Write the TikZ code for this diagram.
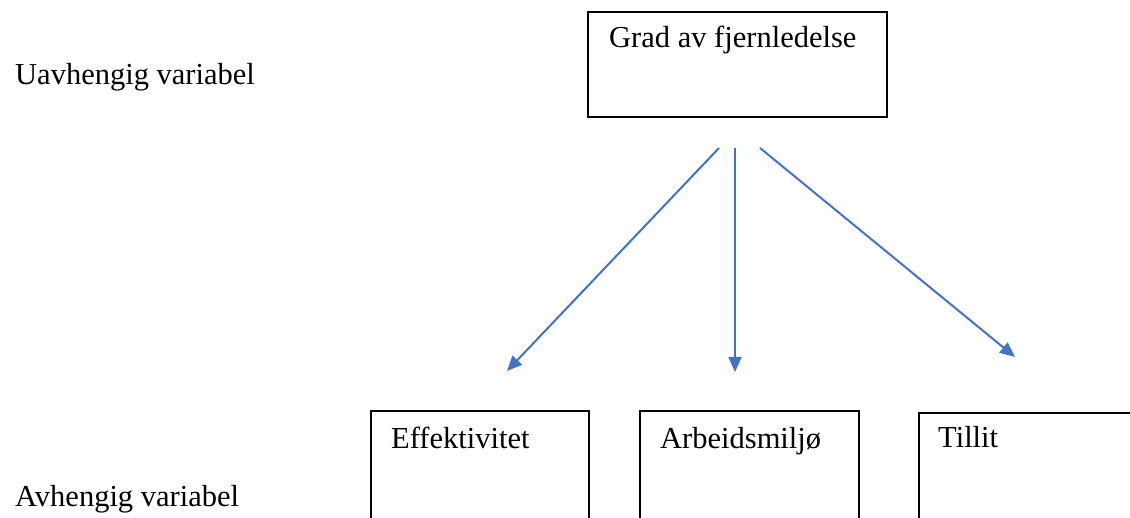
\documentclass[tikz,border=0pt]{standalone}
\usepackage{fontspec}
\setmainfont{Liberation Serif}
\usetikzlibrary{arrows.meta}
\definecolor{arrowblue}{HTML}{4472C4}
\begin{document}
\begin{tikzpicture}[x=1pt,y=-1pt,
  box/.style={draw=black,line width=1.8pt,rectangle,anchor=north west,inner sep=0pt,outer sep=0pt},
  lbl/.style={anchor=base west,inner sep=0pt,font=\fontsize{30.5}{36}\selectfont},
  arr/.style={draw=arrowblue,line width=2pt,-{Triangle[length=15pt,width=13pt]}}]
\useasboundingbox (0,0) rectangle (1130,518);
\clip (0,0) rectangle (1130,518);
% boxes
\node[box,minimum width=299pt,minimum height=105pt] (top) at (588,12) {};
\node[box,minimum width=218pt,minimum height=130pt] (eff) at (371,411) {};
\node[box,minimum width=219pt,minimum height=130pt] (arb) at (640,411) {};
\node[box,minimum width=240pt,minimum height=130pt] (til) at (919,413) {};
% texts
\node[lbl] (uv) at (15,85) {Uavhengig variabel};
\node[lbl] (av) at (15,506) {Avhengig variabel};
\node[lbl] (toptxt) at (609,48) {Grad av fjernledelse};
\node[lbl] (efftxt) at (391,448) {Effektivitet};
\node[lbl] (arbtxt) at (660,448) {Arbeidsmiljø};
\node[lbl] (tiltxt) at (938,447) {Tillit};
% arrow ends
\coordinate (s1) at (719,148);
\coordinate (s2) at (735,148);
\coordinate (s3) at (760,148);
\coordinate (e1) at (507,371);
\coordinate (e2) at (735,372);
\coordinate (e3) at (1015,357);
\draw[arr] (s1) -- (e1);
\draw[arr] (s2) -- (e2);
\draw[arr] (s3) -- (e3);
\end{tikzpicture}
\end{document}
